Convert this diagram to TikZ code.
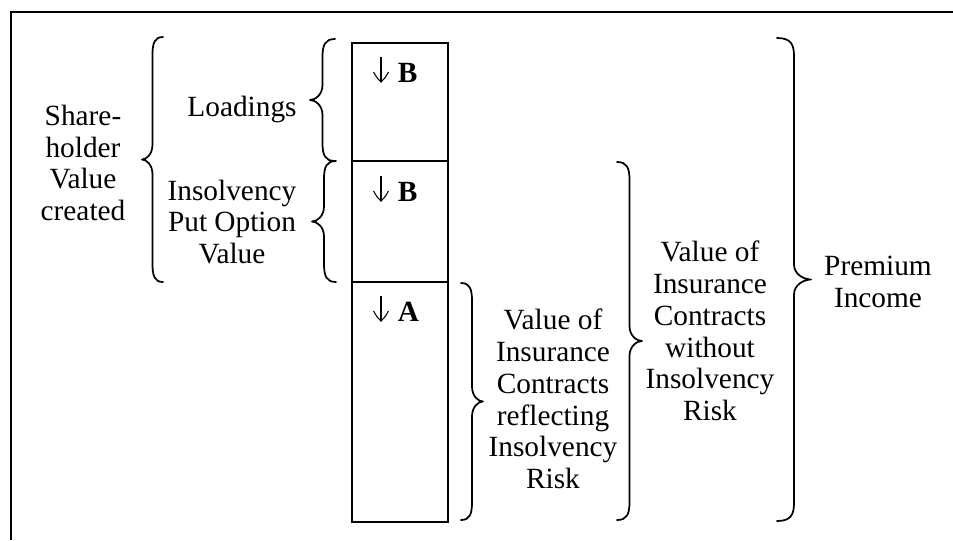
\documentclass[tikz,border=0pt]{standalone}
\usepackage{fontspec}
\setmainfont{Liberation Serif}
\newcommand\mybrace[4]{% #1 ends x, #2 top y, #3 bottom y, #4 signed half width (positive: tip to the left)
  \draw[brc] ({#1},{#2}) .. controls ({#1-0.8*(#4)},{#2}) and ({#1-(#4)},{#2+6}) .. ({#1-(#4)},{#2+18})
    -- ({#1-(#4)},{(#2+#3)/2-15}) .. controls ({#1-(#4)},{(#2+#3)/2-5}) and ({#1-1.6*(#4)},{(#2+#3)/2}) .. ({#1-2*(#4)},{(#2+#3)/2})
    .. controls ({#1-1.6*(#4)},{(#2+#3)/2}) and ({#1-(#4)},{(#2+#3)/2+5}) .. ({#1-(#4)},{(#2+#3)/2+15})
    -- ({#1-(#4)},{#3-18}) .. controls ({#1-(#4)},{#3-6}) and ({#1-0.8*(#4)},{#3}) .. ({#1},{#3});}
\newcommand\mydownarrow[2]{% #1 x of stem, #2 baseline y
  \draw[arr] ({#1},{#2-25.5}) -- ({#1},{#2});
  \draw[arr] ({#1-7.5},{#2-10}) .. controls ({#1-4},{#2-4}) .. ({#1},{#2}) .. controls ({#1+4},{#2-4}) .. ({#1+7.5},{#2-10});}
\begin{document}
\begin{tikzpicture}[x=0.75pt,y=-0.75pt,
  brc/.style={line width=1.3pt,line join=round,line cap=round},
  box/.style={line width=1.1pt},
  arr/.style={line width=0.8pt,line join=miter},
  lbl/.style={align=center,inner sep=0pt,font=\fontsize{22}{23.8}\selectfont},
  boxlbl/.style={anchor=base west,inner sep=0pt,font=\fontsize{22}{23.8}\selectfont\bfseries}]
\useasboundingbox (0,0) rectangle (953,540);
% frame
\draw[line width=1.6pt] (11,540) -- (11,12) -- (953,12);
% column
\draw[box] (352,43) rectangle (448,161);
\draw[box] (352,161) rectangle (448,282);
\draw[box] (352,282) rectangle (448,522);
\node[boxlbl] (b1) at (397.5,82) {B};
\node[boxlbl] (b2) at (397.5,201) {B};
\node[boxlbl] (a1) at (397.5,321) {A};
\mydownarrow{381}{82}
\mydownarrow{381}{201}
\mydownarrow{381}{321}
% left braces
\mybrace{163}{37}{282}{10.5}
\mybrace{335}{39}{161}{12.5}
\mybrace{336}{161}{282}{12}
% right braces
\mybrace{461}{283}{520}{-11}
\mybrace{617}{162}{520}{-12.5}
\mybrace{777}{38}{521}{-17}
% labels
\node[lbl] (sv) at (83,163) {Share-\\holder\\Value\\created};
\node[lbl] (ld) at (242,109) {Loadings};
\node[lbl] (ip) at (232,222) {Insolvency\\Put Option\\Value};
\node[lbl] (vr) at (553,399) {Value of\\Insurance\\Contracts\\reflecting\\Insolvency\\Risk};
\node[lbl] (vw) at (710,331) {Value of\\Insurance\\Contracts\\without\\Insolvency\\Risk};
\node[lbl] (pi) at (878,282) {Premium\\Income};
\end{tikzpicture}
\end{document}
